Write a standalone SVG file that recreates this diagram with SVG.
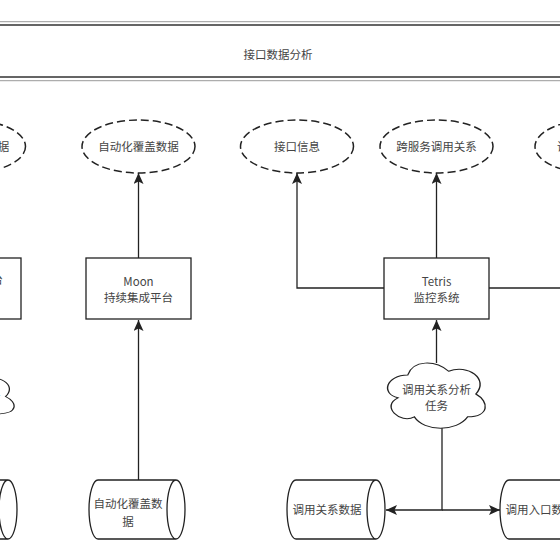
<svg xmlns="http://www.w3.org/2000/svg" width="560" height="560" viewBox="0 0 560 560">
<style>
.s{fill:#fff;stroke:#222;stroke-width:1.3}
.d{fill:#fff;stroke:#222;stroke-width:1.5;stroke-dasharray:8 4}
.c{fill:none;stroke:#222;stroke-width:1.3}
.t{font-family:"Noto Sans CJK SC","Noto Sans",sans-serif;font-size:11.5px;fill:#444;text-anchor:middle}
.cl{fill:#fff;stroke:#222;stroke-width:1.3;vector-effect:non-scaling-stroke}
</style>
<defs>
<marker id="a" markerUnits="userSpaceOnUse" markerWidth="11" markerHeight="10" refX="11" refY="5" orient="auto">
<path d="M0,0 L11,5 L0,10 L2.5,5 Z" fill="#222"/>
</marker>
<path id="cloud" d="M25,25 C5,25 0,50 16,55 C0,66 18,90 31,80 C40,100 70,100 80,80 C100,80 100,60 87.5,50 C100,30 80,10 62.5,20 C50,5 30,5 25,25 Z"/>
</defs>
<rect width="560" height="560" fill="#fff"/>
<g id="banner">
<rect x="-13" y="21.7" width="586" height="59" fill="none" stroke="#999" stroke-width="1"/>
<rect x="-10" y="25" width="580" height="52" fill="#fff" stroke="#333" stroke-width="1.5"/>
<text class="t" x="278" y="59">接口数据分析</text>
</g>
<g id="connectors">
<path class="c" d="M138.5,258 V173" marker-end="url(#a)"/>
<path class="c" d="M138.5,480 V320" marker-end="url(#a)"/>
<path class="c" d="M436.5,258 V173" marker-end="url(#a)"/>
<path class="c" d="M384,288 H297 V173" marker-end="url(#a)"/>
<path class="c" d="M489,288 H575"/>
<path class="c" d="M436.5,363 V320" marker-end="url(#a)"/>
<path class="c" d="M442,428 V510 H386" marker-end="url(#a)"/>
<path class="c" d="M442,510 H500" marker-end="url(#a)"/>
</g>
<g id="e-left">
<ellipse class="d" cx="-31" cy="146.5" rx="56.5" ry="26.5"/>
<text class="t" x="-31" y="151">自动化覆盖数据</text>
</g>
<g id="e-coverage">
<ellipse class="d" cx="138.5" cy="146.5" rx="56.5" ry="26.5"/>
<text class="t" x="138.5" y="151">自动化覆盖数据</text>
</g>
<g id="e-api">
<ellipse class="d" cx="297" cy="146.5" rx="56.5" ry="26.5"/>
<text class="t" x="297" y="151">接口信息</text>
</g>
<g id="e-cross">
<ellipse class="d" cx="436.5" cy="146.5" rx="56.5" ry="26.5"/>
<text class="t" x="436.5" y="151">跨服务调用关系</text>
</g>
<g id="e-right">
<ellipse class="d" cx="591.5" cy="146.5" rx="56.5" ry="26.5"/>
<text class="t" x="591.5" y="151">调用入口数据</text>
</g>
<g id="box-left">
<rect class="s" x="-84" y="258" width="105" height="61"/>
<text class="t" x="-31.5" y="284">接口测试平台</text>
</g>
<g id="box-moon">
<rect class="s" x="86" y="258" width="105" height="61"/>
<text class="t" x="138.5" y="286">Moon</text>
<text class="t" x="138.5" y="302">持续集成平台</text>
</g>
<g id="box-tetris">
<rect class="s" x="384" y="258" width="105" height="61"/>
<text class="t" x="436.5" y="286">Tetris</text>
<text class="t" x="436.5" y="302">监控系统</text>
</g>
<g id="cloud-left">
<use href="#cloud" class="cl" transform="translate(-82,367.5) scale(1,0.58)"/>
<text class="t" x="-34" y="401">覆盖数据分析</text>
</g>
<g id="cloud-task">
<use href="#cloud" class="cl" transform="translate(380.5,356) scale(1.09,0.76)"/>
<text class="t" x="436.5" y="394">调用关系分析</text>
<text class="t" x="436.5" y="410">任务</text>
</g>
<g id="cyl-left">
<path class="s" d="M-72,480 H8 A9,29.5 0 0 1 8,539 H-72 A9,29.5 0 0 1 -72,480 Z M8,480 A9,29.5 0 0 0 8,539"/>
</g>
<g id="cyl-coverage">
<path class="s" d="M98,480 H176 A9,29.5 0 0 1 176,539 H98 A9,29.5 0 0 1 98,480 Z M176,480 A9,29.5 0 0 0 176,539"/>
<text class="t" x="128" y="508">自动化覆盖数</text>
<text class="t" x="128" y="526">据</text>
</g>
<g id="cyl-relation">
<path class="s" d="M296,480 H376 A9,29.5 0 0 1 376,539 H296 A9,29.5 0 0 1 296,480 Z M376,480 A9,29.5 0 0 0 376,539"/>
<text class="t" x="327" y="514">调用关系数据</text>
</g>
<g id="cyl-entry">
<path class="s" d="M509,480 H589 A9,29.5 0 0 1 589,539 H509 A9,29.5 0 0 1 509,480 Z M589,480 A9,29.5 0 0 0 589,539"/>
<text class="t" x="540" y="514">调用入口数据</text>
</g>
</svg>
